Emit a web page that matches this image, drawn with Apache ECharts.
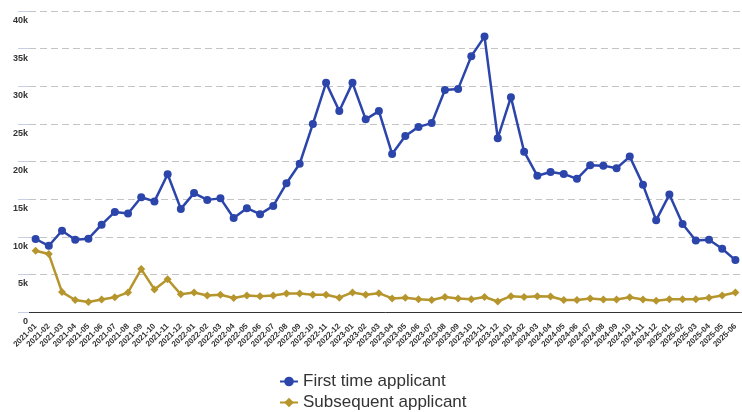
<!DOCTYPE html>
<html>
<head>
<meta charset="utf-8">
<script src="https://cdn.jsdelivr.net/npm/echarts@6/dist/echarts.min.js"></script>
<style>
html,body{margin:0;padding:0;background:#fff;}
#main{width:742px;height:412px;}
</style>
</head>
<body>
<div id="main"></div>
<script type="text/javascript">
	// 月份
	var months = [
		"2021-01","2021-02","2021-03","2021-04","2021-05","2021-06","2021-07","2021-08","2021-09","2021-10","2021-11","2021-12",
		"2022-01","2022-02","2022-03","2022-04","2022-05","2022-06","2022-07","2022-08","2022-09","2022-10","2022-11","2022-12",
		"2023-01","2023-02","2023-03","2023-04","2023-05","2023-06","2023-07","2023-08","2023-09","2023-10","2023-11","2023-12",
		"2024-01","2024-02","2024-03","2024-04","2024-05","2024-06","2024-07","2024-08","2024-09","2024-10","2024-11","2024-12",
		"2025-01","2025-02","2025-03","2025-04","2025-05","2025-06"
	];
	// First time applicant
	var firstTime = [
		9700,8800,10800,9600,9750,11600,13300,13100,15250,14700,18300,13700,
		15800,14900,15100,12500,13800,13000,14100,17100,19700,25000,30450,26700,
		30450,25600,26700,21000,23400,24600,25100,29500,29650,34000,36600,23100,
		28550,21300,18100,18600,18350,17700,19500,19450,19100,20650,16900,12200,
		15600,11700,9500,9600,8400,6900
	];
	// Subsequent applicant
	var subsequent = [
		8150,7700,2650,1600,1330,1650,1950,2600,5700,3000,4350,2350,
		2600,2200,2300,1850,2200,2100,2200,2450,2450,2300,2300,1900,
		2600,2300,2500,1800,1900,1700,1600,2000,1800,1700,2000,1400,
		2100,2000,2100,2050,1600,1600,1800,1650,1650,1950,1650,1500,
		1700,1700,1700,1900,2200,2600
	];
	var yTicks = {min:0, max:40000, interval:5000};
	var seriesNames = ["First time applicant","Subsequent applicant"];
	var colors = ["#2b45ab","#b5952c"];
	var font = 'Liberation Sans, Arial, sans-serif';

	var myChart = echarts.init(document.getElementById("main"));
	var option = {
		animation:false,
		grid:{left:29, top:11, width:719, height:301, containLabel:false},
		legend:{
			orient:'vertical',
			left:279,
			top:373,
			height:80,
			itemWidth:18,
			itemHeight:12,
			itemGap:4,
			padding:0,
			textStyle:{fontSize:17, color:'#333', fontFamily:font},
			data:seriesNames
		},
		xAxis:{
			type:'category',
			boundaryGap:true,
			data:months,
			axisLine:{lineStyle:{color:'#333', width:1}},
			axisTick:{length:9, lineStyle:{color:'#c5d0e6'}},
			axisLabel:{
				interval:0,
				rotate:45,
				margin:13,
				fontSize:8,
				fontWeight:'bold',
				color:'#333',
				fontFamily:font
			}
		},
		yAxis:{
			type:'value',
			min:yTicks.min,
			max:yTicks.max,
			interval:yTicks.interval,
			axisLine:{show:true, lineStyle:{color:'rgba(0,0,0,0)'}},
			axisTick:{show:true, length:11, lineStyle:{color:'#c5d0e6'}},
			splitLine:{lineStyle:{color:'#c4c4c4', type:[7,4], width:1}},
			axisLabel:{
				margin:1,
				verticalAlign:'top',
				padding:[5,0,0,0],
				fontSize:9,
				fontWeight:'bold',
				color:'#333',
				fontFamily:font,
				formatter:function(v){ return v === 0 ? '0' : (v/1000) + 'k'; }
			}
		},
		series:[
			{
				name:seriesNames[0],
				type:'line',
				data:firstTime,
				symbol:'circle',
				symbolSize:8,
				lineStyle:{color:colors[0], width:2.5},
				itemStyle:{color:colors[0]}
			},
			{
				name:seriesNames[1],
				type:'line',
				data:subsequent,
				symbol:'diamond',
				symbolSize:8,
				lineStyle:{color:colors[1], width:2.5},
				itemStyle:{color:colors[1]}
			}
		]
	};
	myChart.setOption(option);
</script>
</body>
</html>
